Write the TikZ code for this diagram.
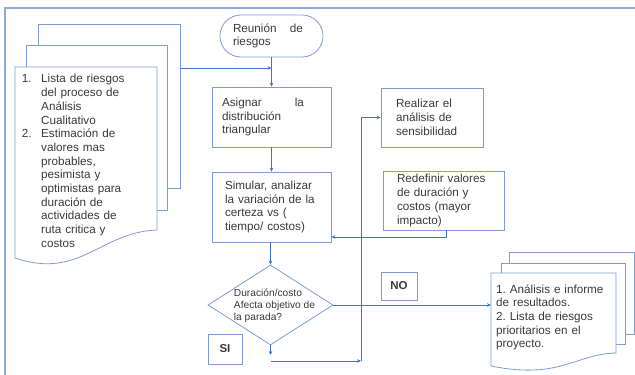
\documentclass[tikz,border=0pt]{standalone}
\usepackage{fontspec}
\setmainfont{Liberation Sans}
\usetikzlibrary{shapes.geometric,arrows.meta,calc}
\definecolor{bord}{HTML}{7F9CD3}
\definecolor{conn}{HTML}{4472C4}
\definecolor{frame}{HTML}{8EA9DB}
\definecolor{txt}{HTML}{3A3A3A}
\begin{document}
\begin{tikzpicture}[x=1pt,y=-1pt,
  box/.style={draw=bord, line width=0.8pt, rectangle, inner sep=0pt, text=txt, align=left,
              font=\fontsize{11.7}{13.7}\selectfont},
  terminal/.style={box, rounded corners=20.9pt},
  decision/.style={draw=bord, line width=0.8pt, diamond, inner sep=0pt, minimum width=125, minimum height=80},
  tag/.style={box, align=center, font=\fontsize{11.5}{13}\selectfont\bfseries},
  doc/.style={draw=bord, line width=0.8pt, fill=white},
  doctext/.style={inner sep=0pt, text=txt, align=left, anchor=west, font=\fontsize{11.7}{13.7}\selectfont},
  arr/.style={draw=conn, line width=0.8pt, -{Stealth[length=4pt,width=3.6pt]}},
  plain/.style={draw=conn, line width=0.8pt}]
\useasboundingbox (0,0) rectangle (635,375);
% frame
\draw[frame, line width=1.2pt] (5,375) -- (5,8) -- (635,8);

% left multi-document
\draw[doc] (38,45) -- (38,24) -- (180,24) -- (180,188) -- (167,188);
\draw[doc] (26,67) -- (26,45) -- (167,45) -- (167,210) -- (157,210);
\draw[doc] (15,67) -- (157,67) -- (157,230) .. controls (100,232) and (80,280) .. (15,258) -- cycle;
\node[doctext, text width=134] (inputs) at (21.7,161) {%
\makebox[19.3pt][l]{1.}Lista de riesgos\\
\hspace*{19.3pt}del proceso de\\
\hspace*{19.3pt}Análisis\\
\hspace*{19.3pt}Cualitativo\\
\makebox[19.3pt][l]{2.}Estimación de\\
\hspace*{19.3pt}valores mas\\
\hspace*{19.3pt}probables,\\
\hspace*{19.3pt}pesimista y\\
\hspace*{19.3pt}optimistas para\\
\hspace*{19.3pt}duración de\\
\hspace*{19.3pt}actividades de\\
\hspace*{19.3pt}ruta critica y\\
\hspace*{19.3pt}costos};

% right multi-document
\draw[doc] (509,263) -- (509,252) -- (634,252) -- (634,334) -- (625,334);
\draw[doc] (501,273) -- (501,263) -- (625,263) -- (625,344) -- (616,344);
\draw[doc] (491,273) -- (616,273) -- (616,353) .. controls (575,354) and (560,380) .. (491,366) -- cycle;
\node[doctext, text width=118] (outputs) at (496,317.5) {%
1.\ Análisis e informe\\
de resultados.\\
2.\ Lista de riesgos\\
prioritarios en el\\
proyecto.};

% main nodes
\node[terminal, minimum width=103, minimum height=42, text width=77] (start) at (271.5,36)
  {\makebox[70pt]{Reunión\hfill de}\\riesgos};
\node[box, minimum width=119, minimum height=60, text width=99] (asignar) at (271.5,117)
  {\makebox[82pt]{Asignar\hfill la}\\distribución\\triangular};
\node[box, minimum width=119, minimum height=70, text width=93] (simular) at (271.5,207)
  {Simular, analizar\\la variación de la\\certeza vs (\\tiempo/ costos)};
\node[box, minimum width=102, minimum height=59, text width=72] (realizar) at (432,117.5)
  {Realizar el\\análisis de\\sensibilidad};
\node[box, minimum width=121, minimum height=59, text width=93] (redefinir) at (443.5,200.5)
  {Redefinir valores\\de duración y\\costos (mayor\\impacto)};
\node[decision, label={[text=txt, align=left, inner sep=0pt, font=\fontsize{10.2}{12}\selectfont, xshift=4pt, yshift=-1pt]center:{Duración/costo\\Afecta objetivo de\\la parada?}}] (decide) at (270.5,305) {};
\node[tag, minimum width=36, minimum height=28] (no) at (399,286) {NO};
\node[tag, minimum width=34, minimum height=30] (si) at (225,349) {SI};

% connector points
\coordinate (inR) at (180,68);
\coordinate (j1) at (271.5,68);
\coordinate (outL) at (491,305);
\coordinate (d1) at (270.5,355);
\coordinate (d2) at (270.5,361);
\coordinate (d3) at (361,361);
\coordinate (r1) at (446,237);

% connectors
\draw[arr] (start) -- (asignar);
\draw[arr] (inR) -- (j1);
\draw[arr] (asignar) -- (simular);
\draw[arr] (simular.south -| decide.north) -- (decide.north);
\draw[arr] (decide.east) -- (outL);
\draw[arr] (decide.south) -- (d1);
\draw[arr] (d2) -- (d3);
\draw[arr] (d3) |- (realizar.west);
\draw[arr] (redefinir.south -| r1) |- (simular.east |- r1);
\end{tikzpicture}
\end{document}
